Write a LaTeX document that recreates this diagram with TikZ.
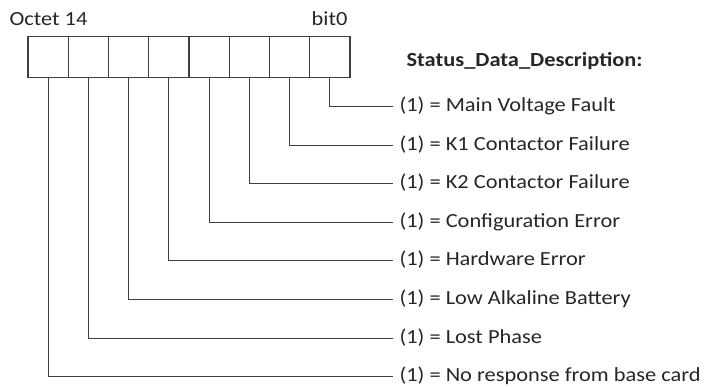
\documentclass[tikz,border=0pt]{standalone}
\usepackage{fontspec}
\setmainfont{Carlito}[FakeStretch=1.12]
\begin{document}
\begin{tikzpicture}[x=1pt, y=-1pt, line width=1.1pt,
    bitcell/.style={rectangle, draw=black!75, inner sep=0pt, minimum size=40.25pt},
    desc/.style={anchor=base west, inner xsep=6pt, inner ysep=0pt, text=black!85, font=\fontsize{20}{22}\selectfont},
    wire/.style={draw=black!75}]
  \useasboundingbox (0,0) rectangle (707,387);

  \node[bitcell] (b7) at (48.1, 57) {};
  \node[bitcell] (b6) at (88.4, 57) {};
  \node[bitcell] (b5) at (128.6, 57) {};
  \node[bitcell] (b4) at (168.9, 57) {};
  \node[bitcell] (b3) at (209.1, 57) {};
  \node[bitcell] (b2) at (249.4, 57) {};
  \node[bitcell] (b1) at (289.6, 57) {};
  \node[bitcell] (b0) at (329.9, 57) {};

  \node[desc, inner xsep=0pt] (octet) at (9, 26) {Octet 14};
  \node[desc, anchor=base east, inner xsep=0pt] (bit) at (348, 26) {bit0};
  \node[desc, inner xsep=0pt, font=\fontsize{20}{22}\selectfont\bfseries] (title) at (406, 67) {Status\_Data\_Description:};

  % descriptions, wire meets them 5pt over the baseline
  \node[desc] (d0) at (393, 111.5) {(1) = Main Voltage Fault};
  \node[desc] (d1) at (393, 150.1) {(1) = K1 Contactor Failure};
  \node[desc] (d2) at (393, 188.7) {(1) = K2 Contactor Failure};
  \node[desc] (d3) at (393, 227.3) {(1) = Configuration Error};
  \node[desc] (d4) at (393, 265.9) {(1) = Hardware Error};
  \node[desc] (d5) at (393, 304.5) {(1) = Low Alkaline Battery};
  \node[desc] (d6) at (393, 343.1) {(1) = Lost Phase};
  \node[desc] (d7) at (393, 381.7) {(1) = No response from base card};

  \draw[wire] (b0.south) |- ([yshift=5pt]d0.base west);
  \draw[wire] (b1.south) |- ([yshift=5pt]d1.base west);
  \draw[wire] (b2.south) |- ([yshift=5pt]d2.base west);
  \draw[wire] (b3.south) |- ([yshift=5pt]d3.base west);
  \draw[wire] (b4.south) |- ([yshift=5pt]d4.base west);
  \draw[wire] (b5.south) |- ([yshift=5pt]d5.base west);
  \draw[wire] (b6.south) |- ([yshift=5pt]d6.base west);
  \draw[wire] (b7.south) |- ([yshift=5pt]d7.base west);
\end{tikzpicture}
\end{document}
